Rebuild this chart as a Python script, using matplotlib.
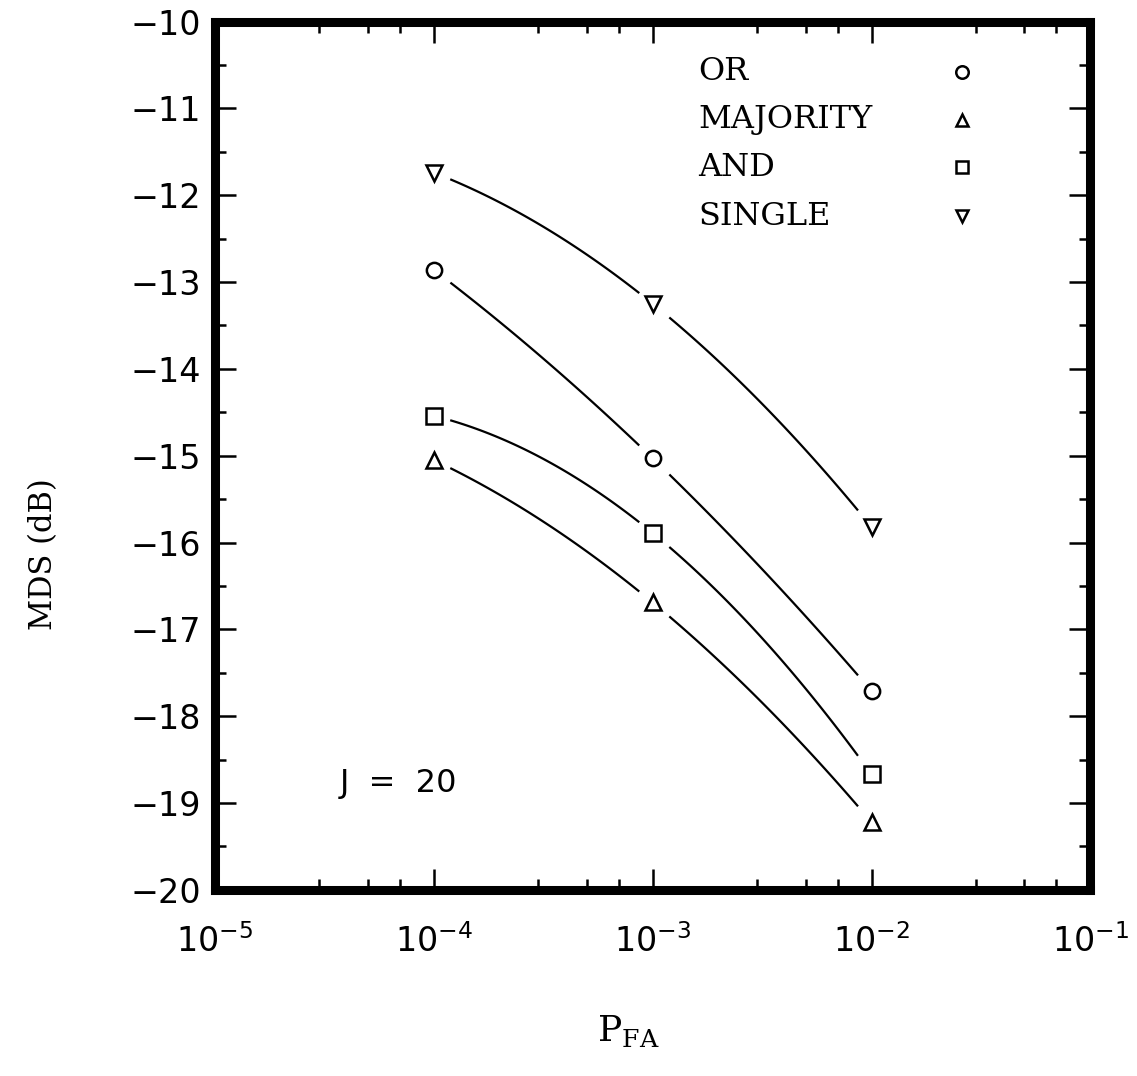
import matplotlib
matplotlib.use("Agg")
import matplotlib.pyplot as plt
import numpy as np
from matplotlib.ticker import LogLocator, MultipleLocator, NullFormatter

# values
pfa = [1e-4, 1e-3, 1e-2]
mds_or = [-12.86, -15.03, -17.71]
mds_majority = [-15.05, -16.69, -19.22]
mds_and = [-14.54, -15.89, -18.67]
mds_single = [-11.74, -13.25, -15.82]

series = [
    ("OR", mds_or, "o"),
    ("MAJORITY", mds_majority, "^"),
    ("AND", mds_and, "s"),
    ("SINGLE", mds_single, "v"),
]

serif = ["DejaVu Serif"]

fig = plt.figure(figsize=(11.37, 10.76), dpi=100)
ax = fig.add_axes([0.189, 0.173, 0.770, 0.807])

lx = np.log10(pfa)
for name, vals, mk in series:
    # smooth curve through the three points, broken near each marker
    coef = np.polyfit(lx, vals, 2)
    for i in range(len(lx) - 1):
        t = np.linspace(lx[i] + 0.08, lx[i + 1] - 0.065, 60)
        ax.plot(10 ** t, np.polyval(coef, t), color="black", lw=1.6)
    ax.plot(pfa, vals, linestyle="none", marker=mk, ms=11, mfc="white",
            mec="black", mew=1.8)

# legend drawn as text + markers
leg_y = [-10.58, -11.13, -11.68, -12.24]
for (name, vals, mk), y in zip(series, leg_y):
    ax.text(0.552, y, name, transform=ax.get_yaxis_transform(),
            fontsize=23, family=serif, va="center", ha="left")
    ax.plot([0.853], [y], transform=ax.get_yaxis_transform(), marker=mk,
            ms=9, mfc="white", mec="black", mew=1.8, linestyle="none")

ax.text(0.143, -18.78, "J  =  20", transform=ax.get_yaxis_transform(),
        fontsize=23, va="center", ha="left")

ax.set_xscale("log")
ax.set_xlim(1e-5, 1e-1)
ax.set_ylim(-20, -10)
ax.yaxis.set_major_locator(MultipleLocator(1))
ax.yaxis.set_minor_locator(MultipleLocator(0.5))
ax.xaxis.set_major_locator(LogLocator(base=10, numticks=10))
ax.xaxis.set_minor_locator(LogLocator(base=10, subs=(3, 5, 7), numticks=10))
ax.xaxis.set_minor_formatter(NullFormatter())

ax.tick_params(which="both", direction="in", top=True, right=True,
               width=1.8, labelsize=24, pad=10)
ax.tick_params(axis="x", which="major", pad=25)
ax.tick_params(which="major", length=15)
ax.tick_params(which="minor", length=8)
ax.set_yticks(np.arange(-20, -9, 1))
ax.set_yticklabels([f"\u2212{abs(v)}" for v in range(-20, -9)])

for sp in ax.spines.values():
    sp.set_linewidth(6.5)

fig.text(0.038, 0.485, "MDS (dB)", fontsize=22, family=serif,
         rotation=90, ha="center", va="center")
fig.text(0.553, 0.025, r"P$_{\mathregular{FA}}$", fontsize=26, family=serif,
         ha="center", va="bottom")

fig.savefig("out.png", dpi=100)
